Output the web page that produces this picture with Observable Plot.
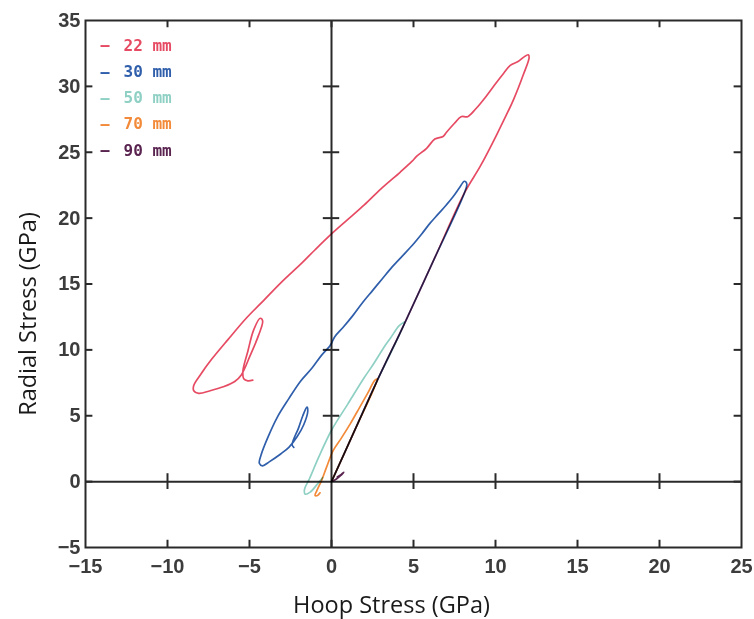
<!DOCTYPE html>
<html>
<head>
<meta charset="utf-8">
<script src="https://cdn.jsdelivr.net/npm/d3@7"></script>
<script src="https://cdn.jsdelivr.net/npm/@observablehq/plot@0.6"></script>
<style>
  html, body { margin: 0; padding: 0; background: #fff; }
</style>
</head>
<body>
<div id="chart"></div>
<script>
// Tick values
const xTicks = [-15, -10, -5, 0, 5, 10, 15, 20, 25];
const yTicks = [-5, 0, 5, 10, 15, 20, 25, 30, 35];

// Series names and colours
const seriesNames = ["22 mm", "30 mm", "50 mm", "70 mm", "90 mm"];
const seriesColors = ["#e64b63", "#2f5eab", "#8fd0c4", "#f28a3a", "#5a2450"];

// [hoop stress, radial stress] in GPa
const s22 = [[0,0],[1.4,3.85],[2.8,7.7],[4.45,12.0],[6.3,17.0],[8.1,21.9],[9.1,24.0],[10.1,26.4],[11.1,29.0],[11.7,30.9],[12.05,32.2],
  [12.0,32.4],[11.7,32.2],[11.4,31.9],[10.9,31.6],[10.5,31.0],[10.0,30.2],[9.4,29.2],[8.8,28.3],[8.3,27.7],[7.9,27.7],[7.5,27.2],
  [7.0,26.5],[6.8,26.2],[6.3,26.0],[5.8,25.3],[5.2,24.7],[4.9,24.3],[4.2,23.5],[3.0,22.2],[2.0,21.0],[1.0,19.9],[0,18.8],
  [-1.0,17.6],[-1.8,16.6],[-3.0,15.2],[-4.1,13.8],[-5.2,12.4],[-6.3,10.8],[-7.3,9.3],[-8.0,8.1],[-8.4,7.3],[-8.4,6.9],[-8.1,6.7],
  [-7.4,6.9],[-6.6,7.2],[-5.9,7.6],[-5.5,8.1],[-4.95,9.6],[-4.45,11.1],[-4.2,12.2],[-4.35,12.4],[-4.75,11.5],[-5.1,9.9],
  [-5.4,8.4],[-5.35,7.8],[-5.1,7.65],[-4.8,7.7]];

const s30 = [[0,0],[1.4,3.85],[2.8,7.7],[4.45,12.0],[6.3,17.0],[8.1,21.9],[8.25,22.6],[8.1,22.8],[7.8,22.3],[7.4,21.6],[7.0,21.0],
  [6.5,20.3],[6.0,19.6],[5.5,18.8],[4.9,17.9],[4.3,17.1],[3.7,16.3],[3.1,15.4],[2.5,14.5],[1.9,13.6],[1.3,12.6],[0.7,11.7],
  [0.2,11.0],[0,10.5],[-0.1,10.3],[-0.6,9.6],[-1.2,8.6],[-1.9,7.6],[-2.6,6.3],[-3.3,4.9],[-3.9,3.3],[-4.3,2.0],
  [-4.4,1.4],[-4.2,1.2],[-3.8,1.5],[-3.1,2.1],[-2.6,2.6],[-2.1,3.4],[-1.7,4.3],[-1.45,5.3],[-1.5,5.65],[-1.75,5.0],[-2.0,4.1],
  [-2.4,2.8],[-2.3,2.6]];

const s50 = [[0,0],[1.4,3.85],[2.8,7.7],[4.45,12.1],[4.3,12.0],[4.1,11.8],[3.6,10.9],[3.2,10.2],[2.6,9.0],[2.0,7.9],[1.0,5.9],
  [0,3.9],[-0.8,1.8],[-1.35,0.2],[-1.65,-0.6],[-1.6,-0.95],[-1.3,-0.8],[-0.9,-0.25],[-0.55,0.3]];

const s70 = [[0,0],[1.4,3.85],[2.8,7.8],[2.65,7.7],[2.2,6.7],[1.7,5.6],[1.15,4.4],[0.6,3.3],[0.1,2.35],[-0.3,1.1],[-0.6,0.1],
  [-0.9,-0.7],[-1.0,-1.05],[-0.85,-1.05],[-0.7,-0.85]];

const s90 = [[0,0],[0.3,0.2],[0.55,0.45],[0.75,0.7],[0.6,0.55],[0.35,0.35]];

const seriesData = [s22, s30, s50, s70, s90];

const W = 754, H = 619;
const legendFont = "'DejaVu Sans Mono', monospace";
const tickFont = "'Liberation Sans', Arial, sans-serif";
const titleFont = "'Open Sans', sans-serif";
const ink = "#2a2a2a";

const marks = [
  Plot.ruleX([0], {stroke: ink, strokeWidth: 2}),
  Plot.ruleY([0], {stroke: ink, strokeWidth: 2}),
  // inward frame ticks
  Plot.ruleX(xTicks.slice(1, -1), {y1: -5, y2: -4.45, stroke: ink, strokeWidth: 2}),
  Plot.ruleX(xTicks.slice(1, -1), {y1: 35, y2: 34.45, stroke: ink, strokeWidth: 2}),
  Plot.ruleY(yTicks.slice(1, -1), {x1: -15, x2: -14.55, stroke: ink, strokeWidth: 2}),
  Plot.ruleY(yTicks.slice(1, -1), {x1: 25, x2: 24.55, stroke: ink, strokeWidth: 2}),
  // crossing ticks on the zero axes
  Plot.ruleX(xTicks.filter(v => v !== 0 && v !== -15 && v !== 25), {y1: -0.6, y2: 0.6, stroke: ink, strokeWidth: 2}),
  Plot.ruleY(yTicks.filter(v => v !== 0 && v !== -5 && v !== 35), {x1: -0.5, x2: 0.5, stroke: ink, strokeWidth: 2}),
  Plot.frame({stroke: ink, strokeWidth: 2}),
  ...seriesData.map((d, i) => Plot.line(d, {
    x: p => p[0], y: p => p[1],
    stroke: seriesColors[i], strokeWidth: 1.7,
    mixBlendMode: "multiply", curve: "catmull-rom"
  })),
  Plot.axisX(xTicks, {anchor: "bottom", tickSize: 0, tickPadding: 11, fontSize: 20, fontWeight: "bold", fontFamily: tickFont, fill: "#3c3c3c"}),
  Plot.axisY(yTicks, {anchor: "left", tickSize: 0, tickPadding: 5, fontSize: 20, fontWeight: "bold", fontFamily: tickFont, fill: "#3c3c3c"}),
  Plot.text(["Hoop Stress (GPa)"], {frameAnchor: "bottom", textAnchor: "middle", lineAnchor: "middle", dx: -22, dy: 58, fontSize: 23.5, fontFamily: titleFont, fill: "#1a1a1a"}),
  Plot.text(["Radial Stress (GPa)"], {frameAnchor: "left", textAnchor: "middle", lineAnchor: "middle", dx: -57, dy: 30, rotate: -90, fontSize: 23.5, fontFamily: titleFont, fill: "#1a1a1a"}),
  ...seriesNames.map((name, i) => Plot.text(["–"], {
    frameAnchor: "top-left", dx: 15, dy: 25 + 26.25 * i, textAnchor: "start", lineAnchor: "middle",
    fontSize: 15, fontWeight: "bold", fontFamily: legendFont, fill: seriesColors[i]
  })),
  ...seriesNames.map((name, i) => Plot.text([name], {
    frameAnchor: "top-left", dx: 38, dy: 25 + 26.25 * i, textAnchor: "start", lineAnchor: "middle",
    fontSize: 16, fontWeight: "bold", fontFamily: legendFont, fill: seriesColors[i], ariaLabel: "legend"
  }))
];

const chart = Plot.plot({
  width: W, height: H,
  marginLeft: 85, marginRight: 13, marginTop: 20, marginBottom: 72,
  x: {domain: [-15, 25]},
  y: {domain: [-5, 35]},
  style: {background: "#fff"},
  marks
});
d3.select(chart).selectAll('g[aria-label="legend"] text').style("letter-spacing", "2.2px");
document.getElementById("chart").appendChild(chart);
</script>
</body>
</html>
